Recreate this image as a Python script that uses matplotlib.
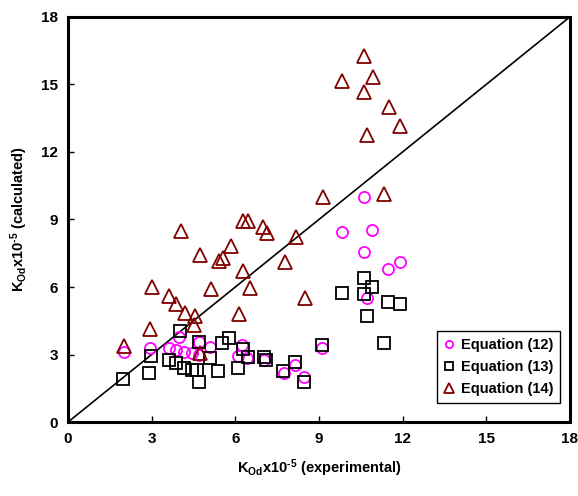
import matplotlib
matplotlib.use("Agg")
import matplotlib.pyplot as plt

plt.rcParams['font.family'] = ['Liberation Sans', 'DejaVu Sans']
plt.rcParams['font.weight'] = 'bold'
plt.rcParams['mathtext.fontset'] = 'custom'
plt.rcParams['mathtext.rm'] = 'Liberation Sans:bold'
plt.rcParams['mathtext.it'] = 'Liberation Sans:bold'
plt.rcParams['mathtext.bf'] = 'Liberation Sans:bold'

eq12_x = [2.0, 2.95, 3.61, 3.87, 4.17, 4.45, 3.99, 4.71, 4.71, 5.11, 6.24, 6.1, 6.43, 7.03,
          7.75, 8.13, 8.46, 9.12, 10.71, 11.49, 11.91, 10.6, 9.81, 10.91, 10.6]
eq12_y = [3.13, 3.3, 3.27, 3.2, 3.13, 3.05, 3.79, 3.55, 2.98, 3.32, 3.42, 2.93, 2.83, 2.76,
          2.19, 2.53, 1.99, 3.28, 5.5, 6.79, 7.13, 7.57, 8.46, 8.53, 9.99]

eq13_x = [1.99, 2.92, 2.97, 4.0, 3.61, 3.87, 4.17, 4.45, 4.63, 4.69, 4.71, 5.11, 5.38, 5.53,
          5.79, 6.1, 6.27, 6.46, 7.03, 7.11, 7.71, 8.13, 8.46, 9.12, 11.32, 10.71, 9.81,
          10.6, 11.49, 11.91, 10.6, 10.92]
eq13_y = [1.91, 2.16, 2.95, 4.03, 2.76, 2.64, 2.41, 2.31, 2.31, 1.79, 3.57, 2.83, 2.28, 3.5,
          3.72, 2.39, 3.23, 2.87, 2.9, 2.76, 2.28, 2.68, 1.79, 3.42, 3.53, 4.71, 5.75,
          5.67, 5.35, 5.23, 6.39, 6.01]

eq14_x = [2.0, 2.95, 3.01, 4.05, 3.63, 3.88, 4.18, 4.57, 4.52, 4.72, 4.72, 5.14, 5.41, 5.56,
          5.83, 6.29, 6.51, 6.14, 6.28, 6.46, 7.01, 7.12, 7.77, 8.17, 8.49, 9.16, 11.34,
          10.62, 9.82, 10.94, 10.62, 11.5, 11.92, 10.72]
eq14_y = [3.4, 4.12, 6.01, 8.49, 5.61, 5.23, 4.86, 4.71, 4.31, 3.05, 7.42, 5.9, 7.17, 7.3,
          7.84, 6.73, 5.97, 4.79, 8.95, 8.95, 8.68, 8.38, 7.11, 8.21, 5.5, 9.99, 10.12,
          16.24, 15.13, 15.32, 14.67, 14.01, 13.16, 12.76]

ticks = [0, 3, 6, 9, 12, 15, 18]

fig = plt.figure(figsize=(5.78, 4.96), dpi=100)
ax = fig.add_axes([0.1176, 0.149, 0.8684, 0.817])

ax.plot([0, 18], [0, 18], color='black', lw=1.2, zorder=1)

ax.plot(eq12_x, eq12_y, 'o', ms=8, mfc='none', mec='#FF00FF', mew=1.3,
        label='Equation (12)', zorder=2)
ax.plot(eq13_x, eq13_y, 's', ms=8.5, mfc='none', mec='black', mew=1.3,
        label='Equation (13)', zorder=3)
ax.plot(eq14_x, eq14_y, '^', ms=10, mfc='none', mec='#800000', mew=1.3,
        label='Equation (14)', zorder=4)

ax.set_xlim(0, 18)
ax.set_ylim(0, 18)
ax.set_xticks(ticks)
ax.set_yticks(ticks)
ax.tick_params(direction='in', length=4, width=1, labelsize=11, pad=7)
for lab in ax.get_xticklabels() + ax.get_yticklabels():
    lab.set_fontweight('bold')
for s in ax.spines.values():
    s.set_linewidth(2.2)

ax.set_xlabel('K$_{\\mathrm{Od}}$x10$^{\u2010\\mathrm{5}}$ (experimental)', fontsize=10.5,
              fontweight='bold', labelpad=8)
ax.set_ylabel('K$_{\\mathrm{Od}}$x10$^{\u2010\\mathrm{5}}$ (calculated)', fontsize=10.5,
              fontweight='bold', labelpad=8)

leg = ax.legend(loc='lower right', bbox_to_anchor=(0.995, 0.03), fontsize=10.5,
                markerscale=0.65, handlelength=0.7, handletextpad=0.5,
                fancybox=False, edgecolor='black', framealpha=1,
                borderpad=0.45, labelspacing=0.55)
leg.get_frame().set_linewidth(1.0)
for t in leg.get_texts():
    t.set_fontweight('bold')

fig.savefig('out.png', dpi=100)
